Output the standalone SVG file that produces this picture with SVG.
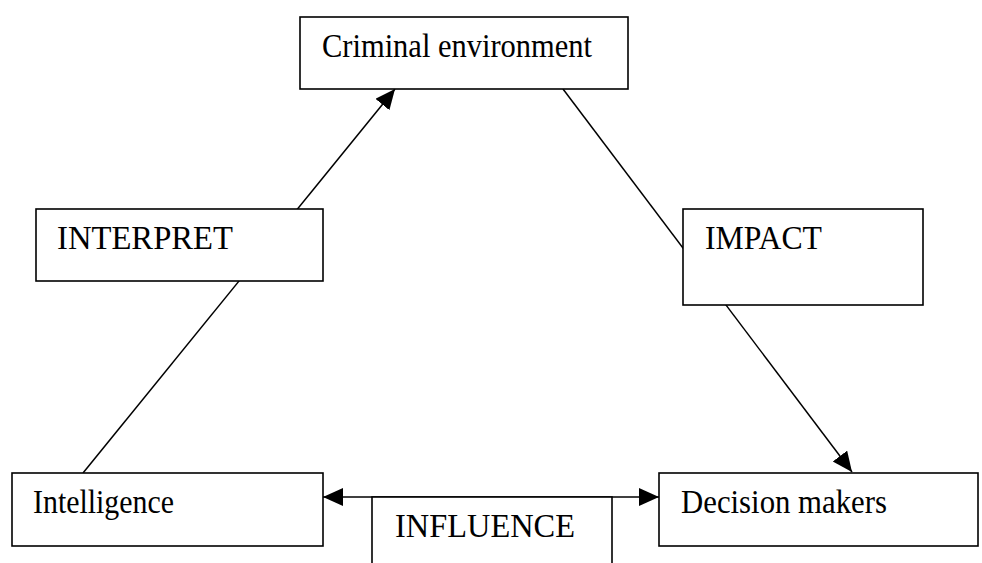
<svg xmlns="http://www.w3.org/2000/svg" width="982" height="563" viewBox="0 0 982 563">
<style>
.box{fill:#fff;stroke:#000;stroke-width:1.6}
.lbl{font-family:"Liberation Serif","Times New Roman",serif;font-size:33px;fill:#000}
.con{stroke:#000;stroke-width:1.5;fill:none}
</style>
<defs>
<marker id="ah" markerUnits="userSpaceOnUse" markerWidth="22" markerHeight="20" refX="20" refY="9" orient="auto">
<path d="M0,0 L20,9 L0,18 z" fill="#000"/>
</marker>
<marker id="ahs" markerUnits="userSpaceOnUse" markerWidth="22" markerHeight="20" refX="20" refY="9" orient="auto-start-reverse">
<path d="M0,0 L20,9 L0,18 z" fill="#000"/>
</marker>
</defs>
<rect width="982" height="563" fill="#fff"/>
<g id="connectors">
<line class="con" x1="83" y1="473" x2="395" y2="89" marker-end="url(#ah)"/>
<line class="con" x1="563" y1="89" x2="852" y2="472" marker-end="url(#ah)"/>
<line class="con" x1="323" y1="497" x2="659" y2="497" marker-start="url(#ahs)" marker-end="url(#ah)"/>
</g>
<g id="criminal-environment">
<rect class="box" x="300" y="17" width="328" height="72"/>
<text class="lbl" x="322" y="57" textLength="270" lengthAdjust="spacingAndGlyphs">Criminal environment</text>
</g>
<g id="interpret">
<rect class="box" x="36" y="209" width="287" height="72"/>
<text class="lbl" x="57" y="249" textLength="176" lengthAdjust="spacingAndGlyphs">INTERPRET</text>
</g>
<g id="impact">
<rect class="box" x="683" y="209" width="240" height="96"/>
<text class="lbl" x="705" y="249" textLength="117" lengthAdjust="spacingAndGlyphs">IMPACT</text>
</g>
<g id="intelligence">
<rect class="box" x="12" y="473" width="311" height="73"/>
<text class="lbl" x="33" y="513" textLength="141" lengthAdjust="spacingAndGlyphs">Intelligence</text>
</g>
<g id="decision-makers">
<rect class="box" x="659" y="473" width="319" height="73"/>
<text class="lbl" x="681" y="513" textLength="206" lengthAdjust="spacingAndGlyphs">Decision makers</text>
</g>
<g id="influence">
<rect class="box" x="372" y="497" width="240" height="90"/>
<text class="lbl" x="395" y="537" textLength="180" lengthAdjust="spacingAndGlyphs">INFLUENCE</text>
</g>
</svg>
